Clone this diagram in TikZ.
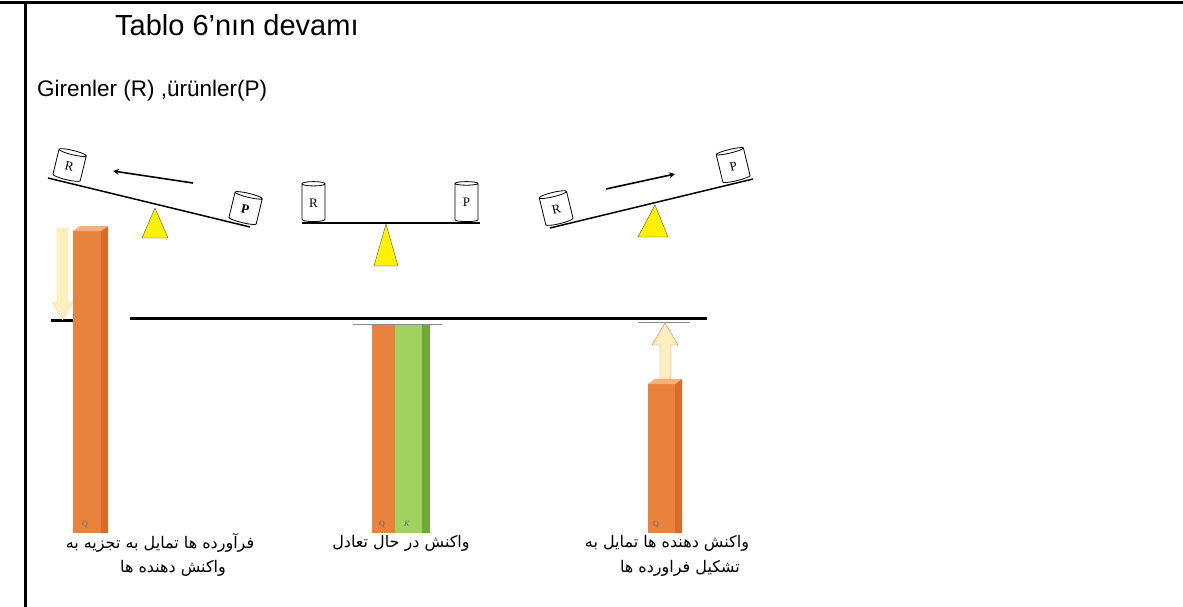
\documentclass[tikz,border=0pt]{standalone}
\usepackage{fontspec}
\setmainfont{Liberation Sans}
\newfontfamily\farsi[Script=Arabic]{DejaVu Sans}
\newfontfamily\canfont{Liberation Serif}
\TeXXeTstate=1
\usetikzlibrary{shapes.geometric, arrows}

\definecolor{barorange}{RGB}{232,130,60}
\definecolor{barside}{RGB}{214,108,40}
\definecolor{bartop}{RGB}{245,175,120}
\definecolor{bargreen}{RGB}{160,210,95}
\definecolor{bargreendark}{RGB}{112,168,60}
\definecolor{paleyellow}{RGB}{255,238,190}
\definecolor{arrowrim}{RGB}{232,120,100}

\tikzstyle{arrow} = [line width=1.6pt,->,>=stealth]
\tikzstyle{beam} = [line width=1.5pt]
\tikzstyle{pivot} = [fill=yellow, draw=black!70, thin]
\tikzstyle{can} = [cylinder, shape border rotate=90, aspect=0.5, draw, thick, fill=white, inner sep=0pt, anchor=south, font=\canfont\fontsize{13}{13}\selectfont]
\tikzstyle{fa} = [inner sep=0pt, font=\farsi\fontsize{16}{18}\selectfont]
\tikzstyle{qlabel} = [inner sep=0pt, text=black!60, font=\canfont\fontsize{8}{8}\selectfont]

\begin{document}
\begin{tikzpicture}[x=1pt, y=-1pt]
        \useasboundingbox (0,0) rectangle (1183,607);

        % table cell border
        \draw[line width=3pt] (0,3) -- (1183,3);
        \draw[line width=3pt] (25,3) -- (25,607);

        \node[anchor=base west, inner sep=0pt, font=\fontsize{29}{30}\selectfont] (title) at (115,36) {Tablo 6’nın devamı};
        \node[anchor=base west, inner sep=0pt, font=\fontsize{22.5}{24}\selectfont] (legend) at (37,97) {Girenler (R) ,ürünler(P)};

        % seesaw - products heavier
        \coordinate (L1) at (48,178);
        \coordinate (L2) at (250,227);
        \draw[beam] (L1) -- (L2);
        \node[can, rotate=-13.6, minimum width=28pt, minimum height=30pt] (LR) at (66,180) {R};
        \node[can, rotate=-13.6, minimum width=28pt, minimum height=30pt] (LP) at (242,223) {\textbf{P}};
        \coordinate (LA1) at (193,183);
        \coordinate (LA2) at (113,171);
        \draw[arrow] (LA1) -- (LA2);
        \draw[pivot] (142,238) -- (155,208) -- (168,238) -- cycle;

        % seesaw - balanced
        \coordinate (M1) at (302,223);
        \coordinate (M2) at (480,223);
        \draw[beam] (M1) -- (M2);
        \node[can, minimum width=23pt, minimum height=40pt] (MR) at (313.5,222) {R};
        \node[can, minimum width=23pt, minimum height=40pt] (MP) at (466.5,222) {P};
        \draw[pivot] (374,266) -- (386,224) -- (398,266) -- cycle;

        % seesaw - reactants heavier
        \coordinate (N1) at (550,228);
        \coordinate (N2) at (753,179);
        \draw[beam] (N1) -- (N2);
        \node[can, rotate=13.6, minimum width=28pt, minimum height=32pt] (NR) at (560,224) {R};
        \node[can, rotate=13.6, minimum width=28pt, minimum height=32pt] (NP) at (737,181) {P};
        \coordinate (NA1) at (606,189);
        \coordinate (NA2) at (675,174);
        \draw[arrow] (NA1) -- (NA2);
        \draw[pivot] (638,237) -- (655,205) -- (668,237) -- cycle;

        % level lines
        \draw[line width=3pt] (130,318) -- (707,318);
        \draw[line width=3pt] (51,320) -- (73,320);
        \draw[black!45] (353,324) -- (442,324);
        \draw[black!45] (638,322) -- (690,322);

        % bars
        \fill[barorange] (73,231) rectangle (101,533);
        \fill[barside] (101,231) -- (108,226) -- (108,533) -- (101,533) -- cycle;
        \fill[bartop] (73,231) -- (80,226) -- (108,226) -- (101,231) -- cycle;
        \fill[paleyellow, draw=paleyellow!80!orange] (57,228) -- (68,228) -- (68,302) -- (73,302) -- (62.5,320) -- (52,302) -- (57,302) -- cycle;

        \fill[barorange] (372,325) rectangle (395,533);
        \fill[bargreen] (395,325) rectangle (422,533);
        \fill[bargreendark] (422,325) rectangle (430,533);

        \fill[barorange] (648,384) rectangle (675,533);
        \fill[barside] (675,384) -- (682,379) -- (682,533) -- (675,533) -- cycle;
        \fill[bartop] (648,384) -- (655,379) -- (682,379) -- (675,384) -- cycle;
        \draw[fill=paleyellow, draw=arrowrim] (660,379) -- (660,345) -- (652,345) -- (665,323) -- (678,345) -- (671,345) -- (671,379) -- cycle;

        \node[qlabel] (QL) at (85,524) {Q};
        \node[qlabel] (QM) at (382,524) {Q};
        \node[qlabel] (KM) at (407,524) {\textit{K}};
        \node[qlabel] (QN) at (656,524) {Q};

        % captions
        \node[fa] (capL1) at (160,543) {\beginR فرآورده ها تمایل به تجزیه به\endR};
        \node[fa] (capL2) at (173,568) {\beginR واکنش دهنده ها\endR};
        \node[fa] (capM) at (401,543) {\beginR واکنش در حال تعادل\endR};
        \node[fa] (capR1) at (667,543) {\beginR واکنش دهنده ها تمایل به\endR};
        \node[fa] (capR2) at (680,568) {\beginR تشکیل فراورده ها\endR};
\end{tikzpicture}
\end{document}
